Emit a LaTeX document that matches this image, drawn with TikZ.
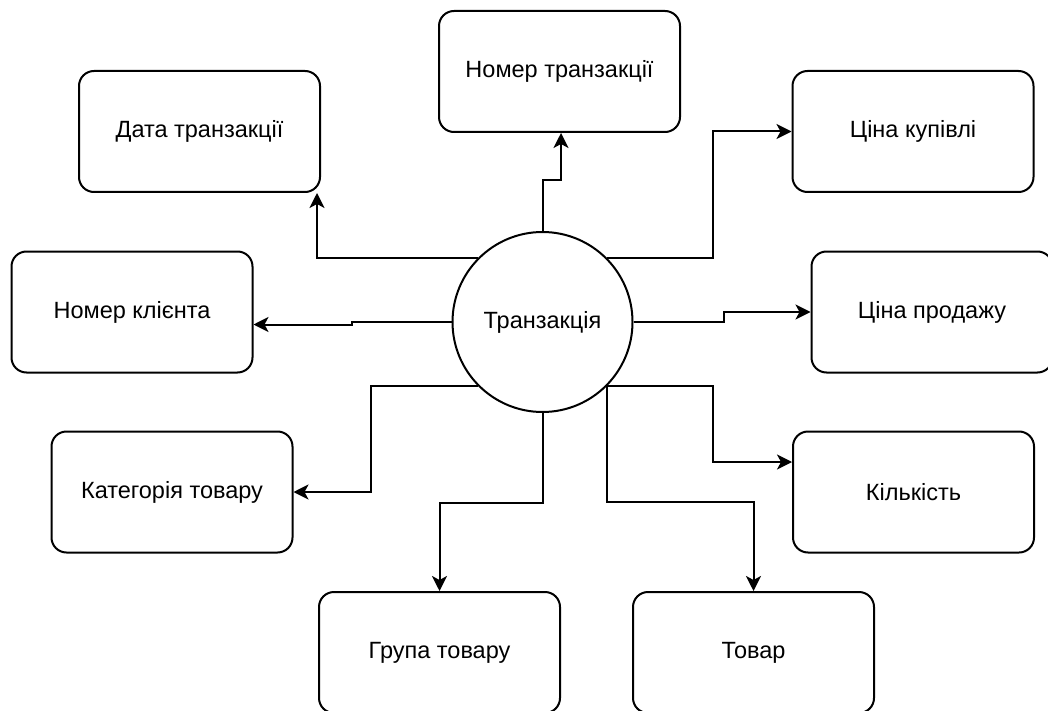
\documentclass[tikz,border=0pt]{standalone}
\usepackage{fontspec}
\setmainfont{Liberation Sans}
\usetikzlibrary{arrows.meta,calc}
\begin{document}
\begin{tikzpicture}[x=1pt,y=-1pt,
  box/.style={draw=black,line width=2pt,rounded corners=15pt,minimum width=241pt,minimum height=121pt,inner sep=0pt,font=\fontsize{23.5}{27}\selectfont},
  hub/.style={draw=black,line width=2pt,circle,minimum size=180pt,inner sep=0pt,font=\fontsize{23.5}{27}\selectfont},
  arr/.style={line width=2pt,-{Stealth[length=15pt,width=15pt,inset=4pt]}}]
\useasboundingbox (0,0) rectangle (1048,711);
\node[hub] (c) at (542.5,322) {Транзакція};
\node[box] (nt) at (559.5,71.5) {Номер транзакції};
\node[box] (dt) at (199.5,131.5) {Дата транзакції};
\node[box] (ck) at (913,131.5) {Ціна купівлі};
\node[box] (nk) at (132,312) {Номер клієнта};
\node[box] (cp) at (932,312) {Ціна продажу};
\node[box] (kt) at (172,492) {Категорія товару};
\node[box] (kl) at (913.5,492) {Кількість};
\node[box] (gt) at (439.5,652.5) {Група товару};
\node[box] (tv) at (753.5,652.5) {Товар};
\draw[arr] (c.north) -- ++(0,-51) -| ($(nt.south)+(1.5,0)$);
\draw[arr] (c.135) -| ($(dt.south east)+(-4,0)$);
\draw[arr] (c.45) -- ++(106,0) |- (ck.west);
\draw[arr] (c.west) -- ++(-100,0) -- ++(0,2.5) -- ($(nk.east)+(0,12.5)$);
\draw[arr] (c.east) -- ++(90,0) |- (cp.west);
\draw[arr] (c.225) -- ++(-107,0) |- (kt.east);
\draw[arr] (c.-45) -- ++(106,0) |- ($(kl.west)+(0,-30)$);
\draw[arr] (c.south) -- ++(0,90) -| (gt.north);
\draw[arr] (c.-45) -- ++(0,116) -| (tv.north);
\end{tikzpicture}
\end{document}
